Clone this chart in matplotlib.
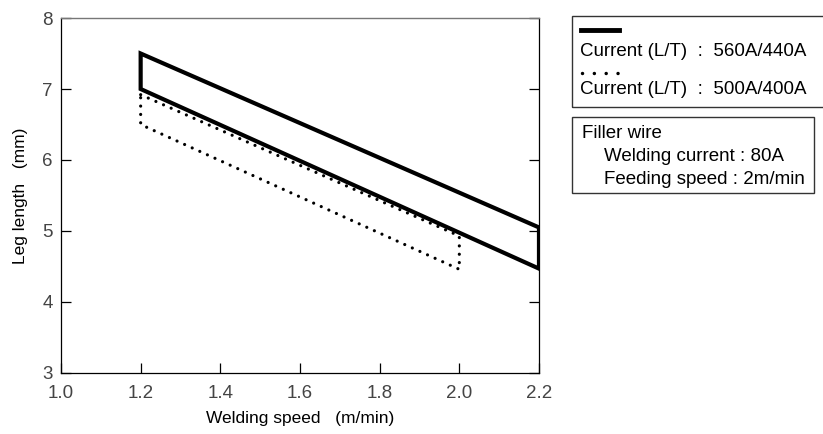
import matplotlib.pyplot as plt
from matplotlib.patches import Rectangle

plt.rcParams['font.family'] = ['Liberation Sans', 'DejaVu Sans']

# solid band: current 560A/440A
solid_x = [1.2, 2.2, 2.2, 1.2]
solid_y = [7.5, 5.05, 4.47, 7.0]

# dotted band: current 500A/400A
dot_x = [1.2, 2.0, 2.0, 1.2, 1.2]
dot_y = [6.92, 4.93, 4.46, 6.5, 6.92]

x_ticks = [1.0, 1.2, 1.4, 1.6, 1.8, 2.0, 2.2]
y_ticks = [3, 4, 5, 6, 7, 8]

fig = plt.figure(figsize=(8.23, 4.34), dpi=100)
ax = fig.add_axes([0.0741, 0.1406, 0.5808, 0.8179])

ax.fill(solid_x, solid_y, fill=False, edgecolor='black', lw=3.0,
        joinstyle='miter')
ax.plot(dot_x, dot_y, color='black', lw=2.3,
        linestyle=(0, (0.01, 2.6)), dash_capstyle='round')

ax.set_xlim(1.0, 2.2)
ax.set_ylim(3, 8)
ax.set_xticks(x_ticks)
ax.set_xticklabels([f"{v:.1f}" for v in x_ticks])
ax.set_yticks(y_ticks)

ax.tick_params(direction='in', length=7, width=0.9, labelsize=13.5,
               labelcolor='#444444', right=True)
ax.tick_params(axis='x', pad=9)
ax.tick_params(axis='y', pad=6)
for s in ['left', 'right', 'bottom']:
    ax.spines[s].set_linewidth(0.9)
ax.spines['top'].set_color('#777777')
ax.spines['top'].set_linewidth(1.0)

ax.set_xlabel("Welding speed   (m/min)", fontsize=12.5, labelpad=6)
ax.set_ylabel("Leg length   (mm)", fontsize=12.5, labelpad=10)

# legend boxes drawn in figure pixels
W, H = 823, 434


def fx(px):
    return px / W


def fy(py):
    return 1 - py / H


fig.patches.append(Rectangle((fx(572), fy(107)), fx(300), 91 / H,
                             transform=fig.transFigure, fill=False,
                             lw=1.0, ec='#333333'))
fig.patches.append(Rectangle((fx(572), fy(193)), fx(242), 76 / H,
                             transform=fig.transFigure, fill=False,
                             lw=1.0, ec='#333333'))

fig.add_artist(plt.Line2D([fx(581), fx(619)], [fy(30), fy(30)],
                          transform=fig.transFigure, color='black', lw=3.5))
fig.add_artist(plt.Line2D([fx(582), fx(620)], [fy(73), fy(73)],
                          transform=fig.transFigure, color='black', lw=2.5,
                          linestyle=(0, (0.01, 3.4)), dash_capstyle='round'))

fs = 13.5
fig.text(fx(580), fy(51), "Current (L/T)  :  560A/440A", fontsize=fs,
         va='center', ha='left')
fig.text(fx(580), fy(89), "Current (L/T)  :  500A/400A", fontsize=fs,
         va='center', ha='left')
fig.text(fx(582), fy(134), "Filler wire", fontsize=fs, va='center', ha='left')
fig.text(fx(604), fy(157), "Welding current : 80A", fontsize=fs,
         va='center', ha='left')
fig.text(fx(604), fy(180), "Feeding speed : 2m/min", fontsize=fs,
         va='center', ha='left')

plt.savefig("out.png", dpi=100)
